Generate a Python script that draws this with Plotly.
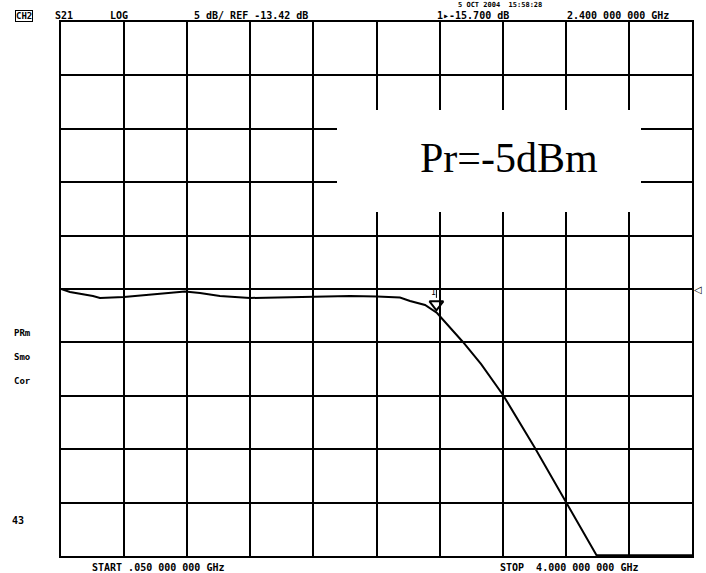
import plotly.graph_objects as go

# ---- data ----
start_ghz = 0.05
stop_ghz = 4.0
ref_db = -13.42
scale_db = 5.0
n_div = 10

freq_ghz = [0.05, 0.106, 0.25, 0.294, 0.444, 0.67, 0.826, 0.92, 1.045, 1.233,
            1.634, 1.859, 2.028, 2.172, 2.235, 2.329, 2.404, 2.48, 2.566,
            2.68, 2.817, 3.017, 3.211, 3.405, 3.6, 3.8, 4.0]
s21_db = [-13.42, -13.70, -14.08, -14.26, -14.17, -13.89, -13.65, -13.79, -14.08, -14.26,
          -14.17, -14.08, -14.12, -14.22, -14.54, -14.92, -15.67, -16.90, -18.38,
          -20.45, -23.34, -28.31, -33.36, -38.42, -38.42, -38.42, -38.42]

marker_freq = 2.4
marker_db = -15.70

header_items = ["S21", "LOG", "5 dB/ REF -13.42 dB", "1\u25b8-15.700 dB", "2.400 000 000 GHz"]
header_px = [53, 108, 192, 435, 565]
date_text = "5 OCT 2004  15:58:28"
side_labels = ["PRm", "Smo", "Cor"]
side_px_y = [333, 357, 381]
start_text = "START .050 000 000 GHz"
stop_text = "STOP  4.000 000 000 GHz"
power_text = "Pr=-5dBm"

# ---- layout geometry ----
W, H = 706, 573
L, R, T, B = 61, 692, 22, 556
pw, ph = R - L, B - T


def px(x):
    return (x - L) / pw


def py(y):
    return (B - y) / ph


y_top = ref_db + scale_db * n_div / 2
y_bot = ref_db - scale_db * n_div / 2

fig = go.Figure()
fig.add_trace(go.Scatter(x=freq_ghz, y=s21_db, mode="lines",
                         line=dict(color="black", width=2), hoverinfo="skip",
                         showlegend=False, cliponaxis=False))
# clamped (off-screen) part drawn heavier along the bottom edge
clamp_x = [f for f, v in zip(freq_ghz, s21_db) if v <= y_bot]
clamp_y = [v for v in s21_db if v <= y_bot]
fig.add_trace(go.Scatter(x=clamp_x, y=clamp_y, mode="lines",
                         line=dict(color="black", width=3.5), hoverinfo="skip",
                         showlegend=False, cliponaxis=False))
# marker triangle just above the marker point
fig.add_trace(go.Scatter(x=[marker_freq], y=[marker_db + 0.85], mode="markers",
                         marker=dict(symbol="triangle-down-open", size=12,
                                     color="black", line=dict(width=2)),
                         showlegend=False, hoverinfo="skip", cliponaxis=False))
fig.add_shape(type="line", xref="x", yref="y", x0=marker_freq, x1=marker_freq,
              y0=ref_db, y1=marker_db + 1.45, line=dict(color="black", width=1))
fig.add_annotation(x=marker_freq, y=ref_db, xref="x", yref="y", text="1",
                   showarrow=False, yshift=-3, xshift=-3, xanchor="center",
                   yanchor="middle",
                   font=dict(family="DejaVu Sans Mono", size=8, color="black"))

# reference-level pointer on the right edge
fig.add_annotation(x=1.0, y=ref_db, xref="paper", yref="y", text="\u25c1",
                   showarrow=False, xanchor="left", yanchor="middle",
                   font=dict(family="DejaVu Sans", size=10, color="black"))

# white box that hides the grid behind the label
fig.add_shape(type="rect", xref="paper", yref="paper",
              x0=px(337), x1=px(641), y0=py(212), y1=py(110),
              fillcolor="white", line=dict(width=0), layer="above")
fig.add_annotation(x=px(509), y=py(158), xref="paper", yref="paper",
                   text=power_text, showarrow=False, xanchor="center", yanchor="middle",
                   font=dict(family="Liberation Serif", size=42, color="black"))

hdr_font = dict(family="DejaVu Sans Mono", size=10, color="black", weight="bold")
hdr_y = 16
fig.add_annotation(x=px(15), y=py(hdr_y), xref="paper", yref="paper", text="CH2",
                   showarrow=False, xanchor="left", yanchor="middle", borderwidth=1,
                   bordercolor="black", borderpad=0,
                   font=dict(family="DejaVu Sans Mono", size=9, color="black",
                             weight="bold"))
for t, x in zip(header_items, header_px):
    fig.add_annotation(x=px(x), y=py(hdr_y), xref="paper", yref="paper", text=t,
                       showarrow=False, xanchor="left", yanchor="middle", font=hdr_font)
fig.add_annotation(x=px(457), y=py(0), xref="paper", yref="paper", text=date_text,
                   showarrow=False, xanchor="left", yanchor="top", borderpad=0,
                   font=dict(family="DejaVu Sans Mono", size=7, color="black",
                             weight="bold"))
for t, y in zip(side_labels, side_px_y):
    fig.add_annotation(x=px(12), y=py(y), xref="paper", yref="paper", text=t,
                       showarrow=False, xanchor="left", yanchor="middle",
                       font=dict(family="DejaVu Sans Mono", size=9, color="black",
                                 weight="bold"))
fig.add_annotation(x=px(10), y=py(520), xref="paper", yref="paper", text="43",
                   showarrow=False, xanchor="left", yanchor="middle",
                   font=dict(family="DejaVu Sans Mono", size=10, color="black",
                             weight="bold"))
fig.add_annotation(x=px(90), y=py(567), xref="paper", yref="paper", text=start_text,
                   showarrow=False, xanchor="left", yanchor="middle", font=hdr_font)
fig.add_annotation(x=px(498), y=py(567), xref="paper", yref="paper", text=stop_text,
                   showarrow=False, xanchor="left", yanchor="middle", font=hdr_font)

fig.update_xaxes(range=[start_ghz, stop_ghz], tick0=start_ghz,
                 dtick=(stop_ghz - start_ghz) / n_div, showgrid=True,
                 gridcolor="black", gridwidth=2, showticklabels=False, ticks="",
                 showline=True, linecolor="black", linewidth=2, mirror=True,
                 zeroline=False, fixedrange=True)
fig.update_yaxes(range=[y_bot, y_top], tick0=ref_db, dtick=scale_db, showgrid=True,
                 gridcolor="black", gridwidth=2, showticklabels=False, ticks="",
                 showline=True, linecolor="black", linewidth=2, mirror=True,
                 zeroline=False, fixedrange=True)
fig.update_layout(width=W, height=H, margin=dict(l=L, r=W - R, t=T, b=H - B),
                  paper_bgcolor="white", plot_bgcolor="white", showlegend=False)

fig.write_html("out.html")
